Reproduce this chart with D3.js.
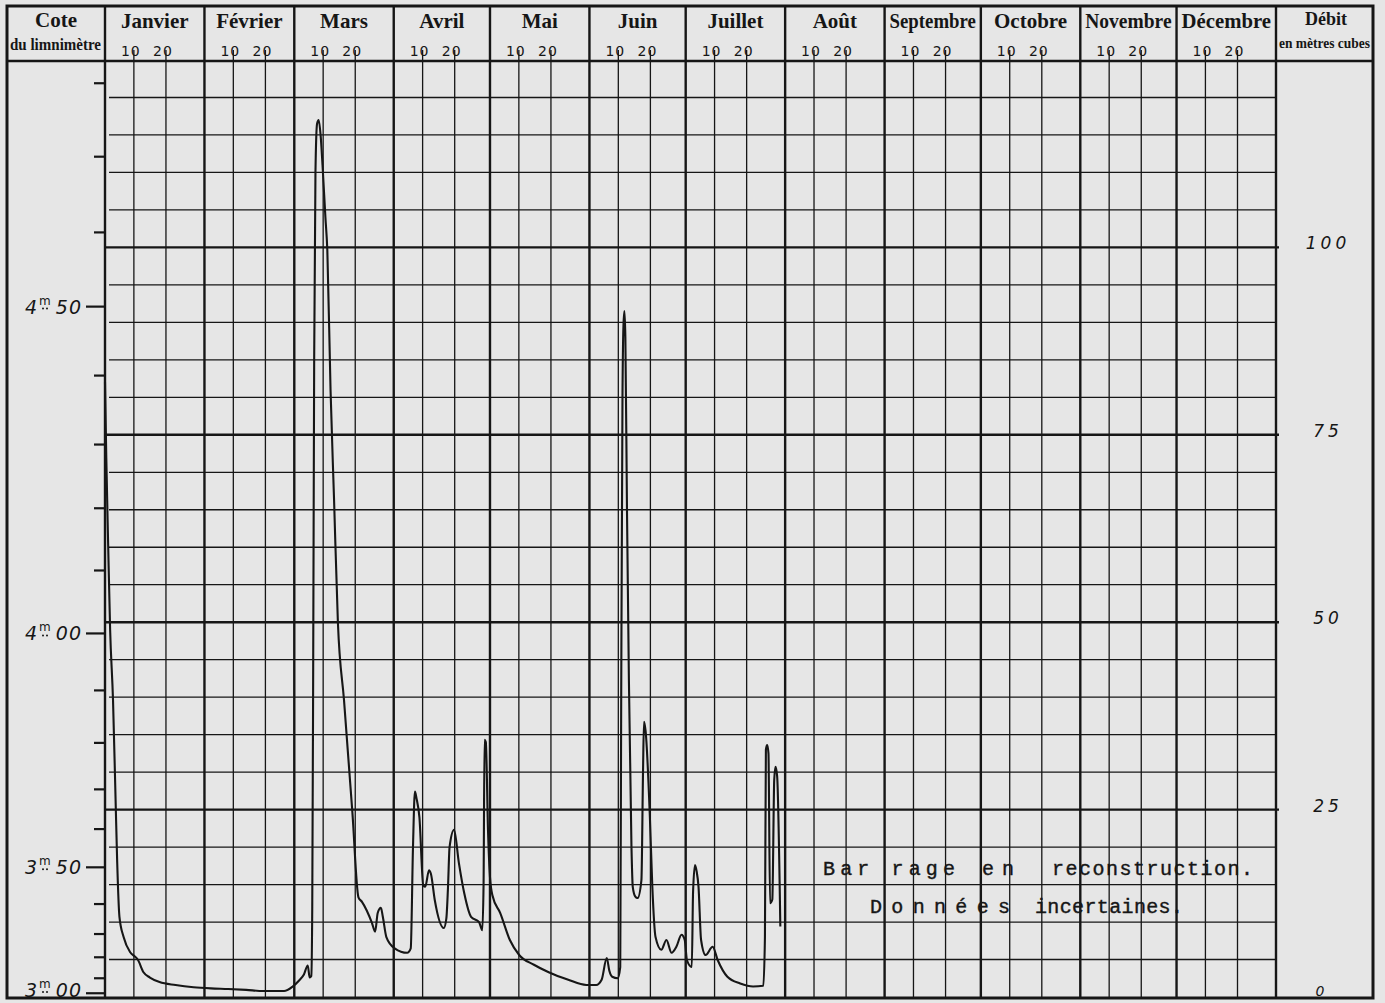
<!DOCTYPE html>
<html><head><meta charset="utf-8">
<script src="https://cdn.jsdelivr.net/npm/d3@7"></script>
<style>body{margin:0;background:#e6e6e6} svg{display:block}</style>
</head><body>
<svg id="c" width="1385" height="1003"></svg>
<script>
// ---------- DATA ----------
const months = ["Janvier","Février","Mars","Avril","Mai","Juin","Juillet","Août","Septembre","Octobre","Novembre","Décembre"];
const dayTicks = [10, 20];
const debitLabels = [0, 25, 50, 75, 100];
const debitMinorStep = 5;
const debitMax = 125;
// rating curve of the gauge: stage (m) -> discharge (m3)
const ratingStage = [3.00,3.10,3.20,3.30,3.40,3.50,3.60,3.70,3.80,3.90,4.00,4.10,4.20,4.30,4.40,4.50,4.60,4.70,4.80];
const ratingDebit = [0.5,2.5,5.3,8.4,12.4,17.3,22.4,27.7,33.9,40.9,48.5,56.9,65.2,73.7,82.9,92.1,102,112.1,121.9];
const coteMajor = [3.00, 3.50, 4.00, 4.50];
const coteMajorMetres = ["3","3","4","4"];
const coteMajorCm = ["00","50","00","50"];
// daily discharge, day of year (0 = 1 January), m3
const flowDay = [0,0.4,1.0,1.6,2.5,3.3,3.8,4.5,5.8,7.8,9.3,10.2,12,14,17,22,27.6,33,38.4,44,49.4,55.8,58.5,60.5,62,63.2,63.8,64.3,
  64.6,64.9,65.2,65.6,66.1,66.6,67.2,67.8,68.7,69.3,70.3,71.4,72.6,74.5,77.1,79,80.1,83.2,84.2,85.0,86.0,86.6,87.7,90.3,94.2,
  95.3,96.0,96.6,97.1,98,99.2,99.8,101.0,101.6,102.8,105.6,106.4,106.9,107.4,108.8,110.3,112,114.1,116.6,117.6,118.0,118.3,118.7,
  119.4,120.0,120.8,123.2,126.2,129.1,133.7,138.3,144.4,150,153.1,154.8,156.4,157.2,158.1,159.8,160.6,160.9,161.3,161.6,161.9,
  162.2,162.7,163.3,164.1,164.5,165.3,166.0,167.2,167.7,168.0,168.5,169.8,170.6,171.6,173.4,175,176.6,178.1,179.7,180.7,181.4,
  182.9,183.3,183.9,184.4,185,185.8,187.2,189.4,191,194,198,202,205.2,205.7,206.0,206.4,206.8,207.3,208.0,208.6,209.0,209.5,210.5];
const flowQ = [82,72,60,49,39.6,26.3,18,10.7,8,6,5.4,5.0,3.3,2.6,2,1.6,1.3,1.15,1.07,0.95,0.8,0.8,1.4,2.2,3.0,4.2,2.6,2.8,
  12,45,85,110,116.5,117,115,111,104,99.6,81,66.3,49.9,39.6,24.7,13.3,12.7,9.9,8.7,11.2,11.9,10.7,8,6.5,5.9,
  6.5,20,27.4,26.5,24,14.9,14.7,16.9,16.4,12.9,9.2,10.5,14.5,20,22.3,17.9,13.8,10.7,10,8.9,15,34.3,34,
  22,16,13.5,11.2,7.6,5.6,4.3,3.3,2.3,1.6,1.6,2.3,5.2,3.5,2.7,2.5,4,40,80,89.5,91.5,
  88,65,42.3,20,14.7,13.4,13.2,15.6,30,36.7,35.5,24.5,14.7,8,6.3,7.6,5.9,6.7,8.3,7.6,4.9,
  4,14,17.6,16.8,14.7,7.6,5.6,6.7,4.9,2.7,1.8,1.4,1.5,8,33,33.6,32.5,12.5,13,29,30.7,29.5,9.4];
const noteLine1 = ["Bar rage", "en", "reconstruction."];
const noteLine2 = ["Données", "incertaines."];

// ---------- LAYOUT ----------
const ink = "#161616";
const L = 7, R = 1373, T = 6, B = 998, headB = 61;
const plotL = 105, plotR = 1276;
const svg = d3.select("#c");
svg.append("rect").attr("width",1385).attr("height",1003).attr("fill","#e6e6e6");

const year = 1901;
const t0 = new Date(Date.UTC(year,0,1)), t1 = new Date(Date.UTC(year+1,0,1));
const x = d3.scaleUtc().domain([t0,t1]).range([plotL, plotR]);
const y = d3.scaleLinear().domain([0, debitMax]).range([997, 60]);
const stageToQ = d3.scaleLinear().domain(ratingStage).range(ratingDebit);
const dayDate = d => new Date(t0.getTime() + d*864e5);

const monthStarts = d3.utcMonths(t0, t1);
const g = svg.append("g");

// horizontal grid (minor)
const minorQ = d3.range(debitMinorStep, debitMax, debitMinorStep).filter(q => q % 25 !== 0);
g.selectAll("line.hmin").data(minorQ).join("line")
  .attr("x1", plotL+4).attr("x2", plotR).attr("y1", d=>y(d)).attr("y2", d=>y(d))
  .attr("stroke", ink).attr("stroke-width", 1.3);
// day 10 / 20 lines
const dayLines = [];
monthStarts.forEach(m => dayTicks.forEach(dd => dayLines.push(new Date(Date.UTC(year, m.getUTCMonth(), dd)))));
g.selectAll("line.vmin").data(dayLines).join("line")
  .attr("x1", d=>x(d)).attr("x2", d=>x(d)).attr("y1", 50).attr("y2", B)
  .attr("stroke", ink).attr("stroke-width", 1.3);
// major horizontal
const majorQ = debitLabels.filter(q => q > 0);
g.selectAll("line.hmaj").data(majorQ).join("line")
  .attr("x1", plotL).attr("x2", plotR+3).attr("y1", d=>y(d)).attr("y2", d=>y(d))
  .attr("stroke", ink).attr("stroke-width", 2.4);
// month boundaries
g.selectAll("line.vmaj").data(monthStarts.concat([t1])).join("line")
  .attr("x1", d=>x(d)).attr("x2", d=>x(d)).attr("y1", T).attr("y2", B)
  .attr("stroke", ink).attr("stroke-width", 2.4);
// header bottom line & border
g.append("line").attr("x1", L).attr("x2", R).attr("y1", headB).attr("y2", headB).attr("stroke", ink).attr("stroke-width", 2.6);
g.append("rect").attr("x", L).attr("y", T).attr("width", R-L).attr("height", B-T)
  .attr("fill","none").attr("stroke", ink).attr("stroke-width", 3);

// month names
const hdrFont = "'Liberation Serif', 'DejaVu Serif', serif";
g.selectAll("text.mon").data(monthStarts).join("text")
  .attr("x", (d,i) => (x(d) + x(i<11 ? monthStarts[i+1] : t1))/2)
  .attr("y", 28).attr("text-anchor","middle")
  .attr("font-family", hdrFont).attr("font-size", 21).attr("font-weight", 700)
  .attr("fill", ink).text((d,i)=>months[i])
  .each(function(d,i){ const w = x(i<11 ? monthStarts[i+1] : t1) - x(d) - 10; if (this.getComputedTextLength() > w) d3.select(this).attr("textLength", w).attr("lengthAdjust","spacingAndGlyphs"); });
// day numbers
g.selectAll("text.day").data(dayLines).join("text")
  .attr("x", d=>x(d)-3).attr("y", 56).attr("text-anchor","middle")
  .attr("font-family","'DejaVu Sans', sans-serif").attr("font-size", 14).attr("letter-spacing", 1).attr("fill", ink)
  .text(d=>d.getUTCDate());

// column titles
g.append("text").attr("x", 56).attr("y", 27).attr("text-anchor","middle")
  .attr("font-family", hdrFont).attr("font-size", 21).attr("font-weight",700).attr("fill", ink).text("Cote");
g.append("text").attr("x", 10).attr("y", 50).attr("textLength", 91).attr("lengthAdjust","spacingAndGlyphs")
  .attr("font-family", hdrFont).attr("font-size", 16).attr("font-weight",700).attr("fill", ink).text("du limnimètre");
g.append("text").attr("x", 1326).attr("y", 25).attr("text-anchor","middle")
  .attr("font-family", hdrFont).attr("font-size", 18).attr("font-weight",700).attr("fill", ink).text("Débit");
g.append("text").attr("x", 1279).attr("y", 48).attr("textLength", 91).attr("lengthAdjust","spacingAndGlyphs")
  .attr("font-family", hdrFont).attr("font-size", 15).attr("font-weight",700).attr("fill", ink).text("en mètres cubes");

// left axis (stage)
const numFont = "'DejaVu Sans', sans-serif";
g.selectAll("line.ltick").data(ratingStage).join("line")
  .attr("x1", d => coteMajor.some(c => Math.abs(c-d)<1e-6) ? 86 : 94).attr("x2", plotL)
  .attr("y1", d=>y(stageToQ(d))).attr("y2", d=>y(stageToQ(d)))
  .attr("stroke", ink).attr("stroke-width", 2.2);
coteMajor.forEach((s,i) => {
  const yy = Math.min(y(stageToQ(s)) + 7, 997);
  const lg = g.append("g").attr("transform", `translate(0,${yy})`).attr("fill", ink)
    .attr("font-family", numFont).attr("font-style","italic");
  lg.append("text").attr("x", 25).attr("y", 0).attr("font-size", 19).text(coteMajorMetres[i]);
  lg.append("text").attr("x", 39).attr("y", -9).attr("font-size", 12).attr("font-style","normal").text("m");
  lg.append("circle").attr("cx", 43).attr("cy", -5).attr("r", 1);
  lg.append("circle").attr("cx", 47).attr("cy", -5).attr("r", 1);
  lg.append("text").attr("x", 82).attr("y", 0).attr("text-anchor","end").attr("font-size", 19).attr("letter-spacing", 1).text(coteMajorCm[i]);
});

// right axis (discharge)
g.selectAll("text.rlab").data(debitLabels).join("text")
  .attr("x", d => d === 0 ? 1322 : 1328).attr("y", d => d === 0 ? y(d) - 6 : y(d) - 4)
  .attr("dominant-baseline","central").attr("text-anchor","middle")
  .attr("font-family", numFont).attr("font-style","italic").attr("font-size", d => d===0 ? 14 : 17)
  .attr("letter-spacing", 4).attr("fill", ink).text(d=>d);

// discharge curve
const flow = flowDay.map((d,i) => ({date: dayDate(d), q: flowQ[i]}));
g.append("path").datum(flow)
  .attr("d", d3.line().x(d=>x(d.date)).y(d=>y(d.q)).curve(d3.curveMonotoneX))
  .attr("fill","none").attr("stroke", ink).attr("stroke-width", 2.1).attr("stroke-linejoin","round");

// note
const noteFont = "'Liberation Mono', 'DejaVu Sans Mono', monospace";
const n1x = [[823,132],[982,32],[1052,201]];
noteLine1.forEach((w,i) => g.append("text").attr("x", n1x[i][0]).attr("y", 875)
  .attr("textLength", n1x[i][1]).attr("lengthAdjust","spacing")
  .attr("font-family", noteFont).attr("font-size", 20).attr("fill", ink).attr("stroke", ink).attr("stroke-width", 0.4).text(w));
const n2x = [[870,140],[1035,148]];
noteLine2.forEach((w,i) => g.append("text").attr("x", n2x[i][0]).attr("y", 913)
  .attr("textLength", n2x[i][1]).attr("lengthAdjust","spacing")
  .attr("font-family", noteFont).attr("font-size", 20).attr("fill", ink).attr("stroke", ink).attr("stroke-width", 0.4).text(w));
</script>
</body></html>
